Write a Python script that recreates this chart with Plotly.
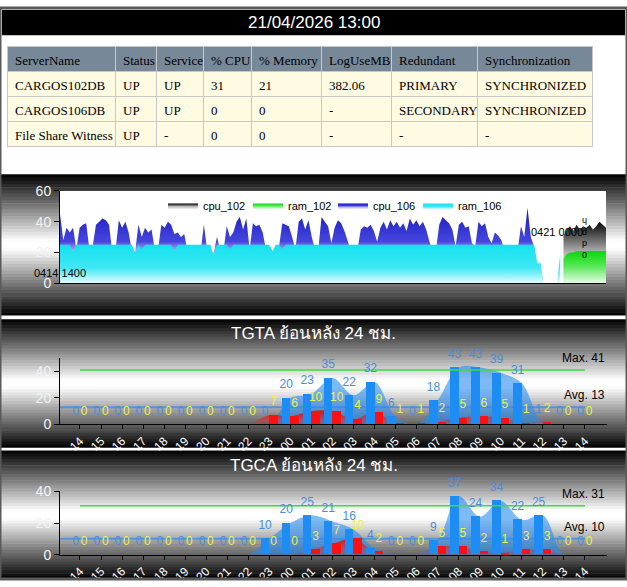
import plotly.graph_objects as go

W, H = 627, 587

# ---- status table ----
table_header = ["ServerName", "Status", "Service", "%\u00a0CPU", "%\u00a0Memory",
                "LogUseMB", "Redundant", "Synchronization"]
server_name = ["CARGOS102DB", "CARGOS106DB", "File\u00a0Share\u00a0Witness"]
status = ["UP", "UP", "UP"]
service = ["UP", "UP", "-"]
cpu_pct = [31, 0, 0]
mem_pct = [21, 0, 0]
log_use_mb = ["382.06", "-", "-"]
redundant = ["PRIMARY", "SECONDARY", "-"]
synchronization = ["SYNCHRONIZED", "SYNCHRONIZED", "-"]

# ---- 7 day trend, one value per hour starting 0414 1400 ----
cpu_106 = [45, 28, 36, 33, 36, 22, 36, 38, 39, 22,
           24, 38, 40, 42, 41, 38, 20, 22, 41, 36,
           40, 33, 21, 21, 38, 30, 36, 33, 35, 22,
           22, 38, 36, 40, 38, 32, 33, 30, 32, 21,
           20, 22, 21, 20, 38, 22, 21, 20, 30, 22,
           21, 37, 30, 33, 40, 43, 35, 42, 22, 39,
           37, 38, 33, 22, 21, 20, 22, 24, 39, 38,
           37, 30, 22, 40, 42, 35, 41, 30, 22, 22,
           43, 40, 37, 26, 36, 41, 39, 34, 27, 21,
           20, 22, 35, 37, 36, 38, 34, 27, 36, 40,
           35, 41, 37, 40, 36, 39, 34, 42, 38, 41,
           37, 40, 35, 27, 21, 22, 38, 43, 41, 39,
           35, 24, 38, 40, 36, 37, 26, 24, 40, 37,
           39, 30, 26, 33, 31, 28, 21, 20, 22, 21,
           22, 37, 30, 49, 30, 24, 0, 0, 0, 0,
           0, 0, 0, 0]
ram_106 = [25, 25, 25, 25, 20, 25, 25, 25, 25, 25,
           25, 25, 25, 25, 25, 25, 25, 25, 25, 25,
           25, 25, 25, 19, 25, 22, 25, 25, 25, 25,
           25, 25, 25, 25, 25, 21, 25, 25, 25, 25,
           25, 25, 25, 25, 25, 25, 25, 18, 25, 25,
           25, 25, 22, 25, 25, 25, 25, 25, 25, 25,
           25, 25, 25, 25, 25, 21, 25, 25, 22, 25,
           25, 25, 25, 25, 25, 25, 25, 25, 25, 25,
           25, 25, 25, 25, 25, 25, 25, 25, 25, 25,
           25, 25, 25, 25, 25, 25, 25, 25, 25, 25,
           25, 25, 25, 25, 25, 25, 25, 25, 25, 25,
           25, 25, 25, 25, 25, 25, 25, 25, 25, 25,
           25, 25, 25, 25, 25, 25, 25, 25, 25, 25,
           25, 25, 25, 25, 25, 25, 25, 25, 25, 25,
           25, 25, 25, 25, 25, 25, 13, 13, 0, 0,
           0, 0, 0, 19]
cpu_102 = [31, 35, 37, 34, 38, 35, 37, 36, 38, 35, 37, 40, 38, 36]
ram_102 = [16, 19, 20, 20, 21, 21, 21, 21, 21, 21, 21, 21, 21, 21]
start_102 = 154          # hour index of 0421 0000
trend_hours = 168
label_first = "0414 1400"
label_102 = "0421 0000"

# ---- last 24 hours ----
hours = ["14", "15", "16", "17", "18", "19", "20", "21", "22", "23", "00", "01",
         "02", "03", "04", "05", "06", "07", "08", "09", "10", "11", "12", "13", "14"]
tgta_blue = [0, 0, 0, 0, 0, 0, 0, 0, 0, 0, 20, 23, 35, 22, 32, 6, 0, 18, 43, 43, 39, 31, 1, 0, 0]
tgta_red = [0, 0, 0, 0, 0, 0, 0, 0, 0, 7, 6, 10, 10, 4, 9, 1, 1, 2, 5, 6, 5, 1, 2, 0, 0]
tgta_max, tgta_avg = 41, 13
tgca_blue = [0, 0, 0, 0, 0, 0, 0, 0, 0, 10, 20, 25, 21, 16, 4, 0, 0, 9, 37, 24, 34, 22, 25, 0, 0]
tgca_red = [0, 0, 0, 0, 0, 0, 0, 0, 0, 0, 0, 3, 7, 10, 2, 0, 0, 5, 5, 2, 1, 3, 3, 0, 0]
tgca_max, tgca_avg = 31, 10

FONT = "Liberation Sans, Arial, Noto Sans, sans-serif"
SERIF = "Liberation Serif, Times New Roman, serif"
BLUE_BAR = "#1e8cf5"
RED_BAR = "#ff1010"


def px_x(p):
    return p / W


def px_y(p):
    return 1 - p / H


def gradient_strips(top, bottom, n=44):
    # black -> white -> black background band
    shapes = []
    step = (bottom - top) / n
    for i in range(n):
        t = (i + 0.5) / n
        v = min(1.0, (1 - abs(2 * t - 1)) * 1.06)
        g = int(round(255 * v))
        shapes.append(dict(type="rect", xref="paper", yref="paper", x0=0, x1=1,
                           y0=px_y(min(bottom, top + (i + 1) * step + 0.7)),
                           y1=px_y(top + i * step),
                           fillcolor=f"rgb({g},{g},{g})", line=dict(width=0),
                           layer="below"))
    return shapes


fig = go.Figure()

fig.add_trace(go.Table(
    domain=dict(x=[px_x(7), px_x(592)], y=[px_y(146), px_y(40)]),
    columnwidth=[108, 41, 47, 48, 70, 70, 86, 115],
    header=dict(values=table_header, fill_color="#778899", line_color="#c8c8c8",
                align="left", height=25,
                font=dict(family=SERIF, size=13, color="black")),
    cells=dict(values=[server_name, status, service, cpu_pct, mem_pct,
                       log_use_mb, redundant, synchronization],
               fill_color="#fffbe3", line_color="#c8c8c8", align="left", height=25,
               font=dict(family=SERIF, size=13, color="black")),
))

# ---- trend panel ----
x106 = list(range(len(cpu_106)))
x102 = list(range(start_102, start_102 + len(cpu_102)))


def trend_area(x, y, name, scale, stop):
    return go.Scatter(x=x, y=y, name=name, mode="lines", fill="tozeroy",
                      line=dict(width=0),
                      fillgradient=dict(type="vertical", colorscale=scale, start=0, stop=stop),
                      xaxis="x", yaxis="y", hoverinfo="skip")


fig.add_trace(trend_area(x102, cpu_102, "cpu_102",
                         [[0, "#ffffff"], [0.5, "#b4b4b4"], [0.85, "#303030"], [1, "#000000"]], 42))
fig.add_trace(trend_area(x102, ram_102, "ram_102",
                         [[0, "#ffffff"], [0.6, "#55e855"], [1, "#12d812"]], 21))
fig.add_trace(trend_area(x106, cpu_106, "cpu_106",
                         [[0, "#ffffff"], [0.45, "#a8a8f0"], [0.56, "#4646de"], [1, "#1616bc"]], 50))
fig.add_trace(trend_area(x106, ram_106, "ram_106",
                         [[0, "#ffffff"], [0.45, "#40e8f4"], [1, "#16e2ef"]], 25))

# ---- 24 hour panels ----
idx = list(range(len(hours)))


def hourly_panel(blue, red, avg, maxv, base, over):
    xa, ya = base
    xo, yo = over
    common = dict(hoverinfo="skip", showlegend=False)
    fig.add_trace(go.Scatter(x=[idx[0] - 1, idx[-1]], y=[avg, avg], mode="lines",
                             line=dict(color="#4f94dc", width=2), xaxis=xa, yaxis=ya, **common))
    fig.add_trace(go.Scatter(x=idx, y=blue, mode="lines", fill="tozeroy",
                             line=dict(shape="spline", width=0),
                             fillcolor="rgba(40,140,240,0.6)", xaxis=xa, yaxis=ya, **common))
    fig.add_trace(go.Scatter(x=idx, y=red, mode="lines", fill="tozeroy",
                             line=dict(shape="spline", width=0),
                             fillgradient=dict(type="vertical", start=0, stop=max(red),
                                               colorscale=[[0, "rgba(255,40,40,0.1)"],
                                                           [1, "rgba(240,0,0,0.8)"]]),
                             xaxis=xa, yaxis=ya, **common))
    fig.add_trace(go.Bar(x=idx, y=blue, width=0.4, offset=-0.4,
                         marker=dict(color=BLUE_BAR, line=dict(width=0)),
                         xaxis=xo, yaxis=yo, **common))
    fig.add_trace(go.Bar(x=idx, y=red, width=0.4, offset=0,
                         marker=dict(color=RED_BAR, line=dict(width=0)),
                         xaxis=xo, yaxis=yo, **common))
    fig.add_trace(go.Scatter(x=[idx[0], idx[-1]], y=[maxv, maxv], mode="lines",
                             line=dict(color="#3ddc3d", width=1.5), xaxis=xo, yaxis=yo, **common))
    fig.add_trace(go.Scatter(x=[i - 0.2 for i in idx], y=blue, mode="markers+text",
                             text=[str(v) for v in blue], textposition="top center",
                             marker=dict(size=9, color="rgba(0,0,0,0)"),
                             textfont=dict(color="#4a8ed8", size=12, family=FONT),
                             cliponaxis=False, xaxis=xo, yaxis=yo, **common))
    fig.add_trace(go.Scatter(x=[i + 0.2 for i in idx], y=red, mode="markers+text",
                             text=[str(v) for v in red], textposition="top center",
                             marker=dict(size=9, color="rgba(0,0,0,0)"),
                             textfont=dict(color="#eeee50", size=12, family=FONT),
                             cliponaxis=False, xaxis=xo, yaxis=yo, **common))


hourly_panel(tgta_blue, tgta_red, tgta_avg, tgta_max, ("x2", "y2"), ("x4", "y4"))
hourly_panel(tgca_blue, tgca_red, tgca_avg, tgca_max, ("x3", "y3"), ("x5", "y5"))

# ---- axes ----
y_tick = dict(ticks="outside", ticklen=5, tickcolor="black", showline=True,
              linecolor="black", linewidth=1, showgrid=False, zeroline=False,
              tickfont=dict(color="#f2f2f2", size=14, family=FONT))
cat_range = [-0.95, 25.05]
x_cat = dict(range=cat_range, tickvals=idx, ticktext=hours, tickangle=-45,
             ticks="outside", ticklen=4, tickcolor="black", showline=True,
             linecolor="black", showgrid=False, zeroline=False,
             tickfont=dict(color="white", size=12, family=FONT))
dom_x = [px_x(60), px_x(607)]

fig.update_layout(
    xaxis=dict(domain=[px_x(60), px_x(606)], range=[0, trend_hours - 1], anchor="y",
               showline=True, linecolor="black", showticklabels=False, ticks="",
               showgrid=False, zeroline=False),
    yaxis=dict(domain=[px_y(283), px_y(188)], range=[0, 60], tickvals=[0, 20, 40, 60],
               anchor="x", **y_tick),
    xaxis2=dict(domain=dom_x, anchor="y2", **x_cat),
    yaxis2=dict(domain=[px_y(428), px_y(360)], range=[0, 50], tickvals=[0, 20, 40],
                anchor="x2", **y_tick),
    xaxis3=dict(domain=dom_x, anchor="y3", **x_cat),
    yaxis3=dict(domain=[px_y(562), px_y(497)], range=[0, 40], tickvals=[0, 20, 40],
                anchor="x3", **y_tick),
    xaxis4=dict(overlaying="x2", range=cat_range, visible=False, anchor="y4"),
    yaxis4=dict(overlaying="y2", range=[0, 50], visible=False, anchor="x4"),
    xaxis5=dict(overlaying="x3", range=cat_range, visible=False, anchor="y5"),
    yaxis5=dict(overlaying="y3", range=[0, 40], visible=False, anchor="x5"),
)

# ---- backgrounds ----
shapes = []
for top, bottom in [(171, 316), (320, 452), (455, 587)]:
    shapes += gradient_strips(top, bottom)
shapes.append(dict(type="rect", xref="paper", yref="paper", x0=px_x(2), x1=px_x(625),
                   y0=px_y(28), y1=px_y(2), fillcolor="black", line=dict(width=0), layer="below"))
shapes.append(dict(type="rect", xref="x domain", yref="y domain", x0=0, x1=1, y0=0, y1=1,
                   fillcolor="white", line=dict(width=0), layer="below"))
shapes.append(dict(type="rect", xref="paper", yref="paper", x0=0, x1=1, y0=0, y1=1,
                   fillcolor="rgba(0,0,0,0)", line=dict(color="#5a5a5a", width=3), layer="above"))

annotations = [
    dict(text="21/04/2026 13:00", x=0.5, y=px_y(15), xref="paper", yref="paper",
         yanchor="middle", showarrow=False, font=dict(color="white", size=17, family=FONT)),
    dict(text="TGTA ย้อนหลัง 24 ชม.", x=0.5, y=px_y(335), xref="paper", yref="paper",
         yanchor="middle", showarrow=False, font=dict(color="white", size=17, family=FONT)),
    dict(text="TGCA ย้อนหลัง 24 ชม.", x=0.5, y=px_y(470), xref="paper", yref="paper",
         yanchor="middle", showarrow=False, font=dict(color="white", size=17, family=FONT)),
    dict(text=label_first, x=x106[0], y=7, xref="x", yref="y", showarrow=False,
         font=dict(color="black", size=11, family=FONT)),
    dict(text=label_102, x=start_102, y=33, xref="x", yref="y", xshift=-7, showarrow=False,
         font=dict(color="black", size=11, family=FONT)),
    dict(text="ɥ<br>d<br>p<br>0", x=start_102 + 6.5, y=30, xref="x", yref="y", showarrow=False,
         font=dict(color="black", size=9, family=FONT)),
]
for ax, maxv, avg in [("2", tgta_max, tgta_avg), ("3", tgca_max, tgca_avg)]:
    for label, v in [("Max. %d" % maxv, maxv), ("Avg. %d" % avg, avg)]:
        annotations.append(dict(text=label, x=1, xref="x%s domain" % ax, xanchor="right",
                                y=v, yref="y" + ax, yanchor="bottom", yshift=3,
                                showarrow=False,
                                font=dict(color="black", size=12, family=FONT)))

fig.update_layout(
    width=W, height=H, margin=dict(l=0, r=0, t=0, b=0),
    paper_bgcolor="white", plot_bgcolor="rgba(0,0,0,0)",
    barmode="overlay", bargap=0,
    font=dict(family=FONT, size=12),
    shapes=shapes, annotations=annotations,
    showlegend=True,
    legend=dict(orientation="h", x=px_x(163), y=px_y(203), xanchor="left", yanchor="middle",
                font=dict(size=11, color="black", family=FONT), bgcolor="rgba(0,0,0,0)",
                itemwidth=30, entrywidth=40, entrywidthmode="pixels", traceorder="normal"),
)

# page body margin would push the figure off the 627x587 window
fig.write_html("out.html", config={"displayModeBar": False},
               post_script="document.body.style.margin='0';document.body.style.overflow='hidden';")
